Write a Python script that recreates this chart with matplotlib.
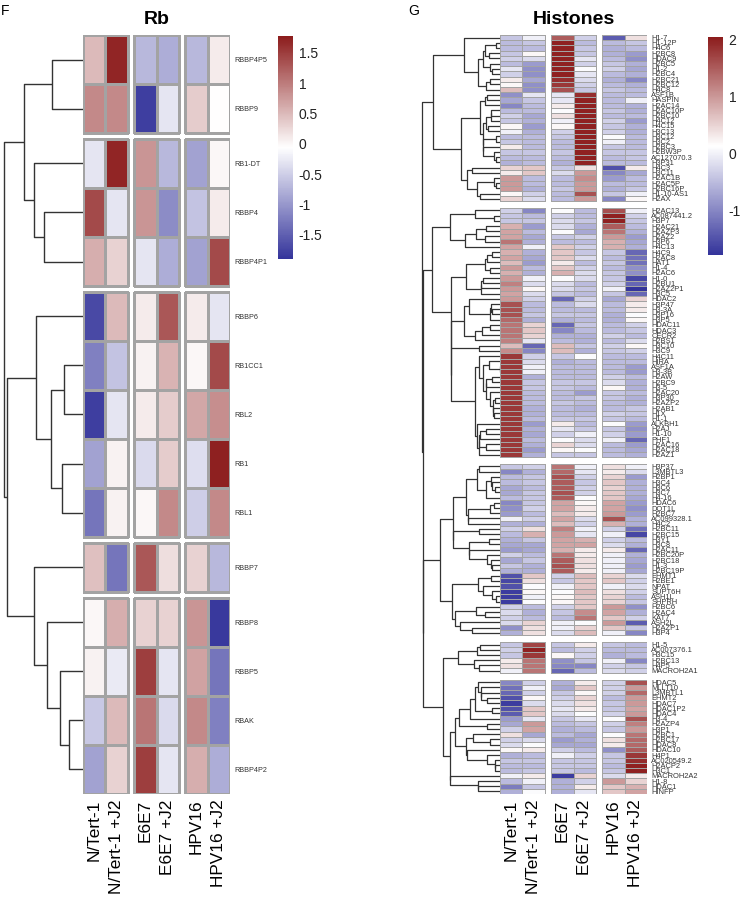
import numpy as np
import matplotlib
matplotlib.use("Agg")
import matplotlib.pyplot as plt
from matplotlib.colors import LinearSegmentedColormap, Normalize
from matplotlib.cm import ScalarMappable

plt.rcParams['font.family'] = ['Liberation Sans', 'DejaVu Sans']
plt.rcParams['axes.unicode_minus'] = False

samples = ["N/Tert-1", "N/Tert-1 +J2", "E6E7", "E6E7 +J2", "HPV16", "HPV16 +J2"]

# ---- Rb panel (row z-scores) ----
rb_genes = ["RBBP4P5", "RBBP9", "RB1-DT", "RBBP4", "RBBP4P1", "RBBP6", "RB1CC1", "RBL2",
            "RB1", "RBL1", "RBBP7", "RBBP8", "RBBP5", "RBAK", "RBBP4P2"]
rb_values = [
    [0.5, 1.7, -0.7, -0.8, -0.7, 0.1],
    [0.9, 0.9, -1.8, -0.3, 0.35, -0.05],
    [-0.3, 1.7, 0.8, -0.7, -0.9, 0.0],
    [1.4, -0.3, 0.8, -1.1, -0.6, 0.1],
    [0.6, 0.3, -0.3, -0.8, -0.9, 1.4],
    [-1.7, 0.5, 0.1, 1.3, 0.1, -0.3],
    [-1.2, -0.6, 0.05, 0.55, 0.0, 1.4],
    [-1.8, -0.3, 0.1, 0.35, 0.65, 0.85],
    [-0.9, 0.05, -0.4, 0.35, -0.35, 1.75],
    [-1.3, 0.05, 0.0, 0.9, -0.5, 0.9],
    [0.45, -1.3, 1.3, 0.2, 0.3, -0.7],
    [0.0, 0.6, 0.3, 0.3, 0.8, -1.85],
    [0.05, -0.25, 1.5, -0.3, 0.7, -1.3],
    [-0.55, 0.5, 1.05, -0.4, 0.9, -1.2],
    [-0.9, 0.3, 1.5, -0.3, 0.6, -0.8],
]
rb_blocks = [2, 3, 5, 1, 4]
rb_range = (-1.9, 1.78)
rb_ticks = [-1.5, -1, -0.5, 0, 0.5, 1, 1.5]
# row dendrogram: (left, right, merge height)
rb_tree = (((0, 1, 31), (2, (3, 4, 39), 49), 59),
           ((5, ((6, 7, 19), (8, 9, 21), 32), 47),
            (10, (11, (12, (13, 14, 14), 23), 36), 49), 76), 79)

# ---- Histones panel ----
hist_b1_genes = ["H1-7", "H1-12P", "H4C6", "H2BC8", "HDAC9", "H2BC5", "H1-2", "H2BC4", "H2BC21",
                 "H2BC12", "H4C8", "ASF1B", "HASPIN", "H2AC14", "H2AC10P", "H2BC10", "H4C12",
                 "H4C15", "H3C13", "H3C12", "H3C2", "H2BC3", "H2BW3P", "AC127070.3", "H3P31",
                 "H4C3", "H3C11", "H2AC1B", "H2AC5P", "H2BC16P", "H1-10-AS1", "H2AX"]
hist_b1_values = [
    [-0.4, 0.0, 1.5, -0.3, -1.4, 0.4], [-0.5, -0.4, 2.0, -0.5, -0.5, -0.4],
    [-0.5, -0.5, 2.0, -0.4, -0.6, -0.5], [-0.4, 0.2, 2.0, -0.4, -0.6, -0.8],
    [-0.3, -0.2, 2.0, -0.1, -0.5, -0.9], [-0.5, -0.8, 2.0, -0.3, -0.4, -0.6],
    [-0.1, -0.9, 2.0, 0.1, -0.3, -0.7], [-0.3, -0.9, 2.0, -0.1, -0.5, -0.6],
    [0.3, -0.7, 1.9, -0.2, -0.6, -1.0], [0.2, -0.9, 1.8, -0.3, -0.5, -0.6],
    [0.7, -0.9, 1.6, -0.4, -0.4, -0.5], [-0.9, -0.1, -0.1, 1.9, -0.5, -0.5],
    [-0.7, -0.4, -0.1, 2.0, -0.5, 0.0], [-1.0, -0.5, 0.3, 2.0, -0.5, -0.6],
    [-0.5, -0.5, 0.1, 2.0, -0.4, -0.6], [-0.3, -0.7, 0.4, 2.0, -0.5, -0.5],
    [-0.4, -0.6, 0.0, 2.0, -0.3, -0.8], [0.2, -0.8, 0.2, 2.0, -0.4, -0.6],
    [0.0, -0.6, -0.3, 2.0, -0.3, -0.6], [-0.5, -0.5, -0.4, 2.0, 0.1, -0.5],
    [-0.4, -0.5, -0.5, 2.0, 0.0, -0.5], [0.3, -0.5, -0.5, 2.0, -0.4, -0.5],
    [-0.4, -0.4, -0.4, 2.0, -0.4, -0.4], [-0.5, -0.5, -0.5, 2.0, -0.5, -0.4],
    [-0.6, -0.5, -0.6, 2.0, -0.5, -0.5], [0.5, 0.6, -0.4, 0.4, -1.5, 0.3],
    [0.3, 0.6, -0.2, 1.0, -1.0, -0.7], [1.0, -0.5, -0.5, 1.1, -0.8, -0.5],
    [1.0, -0.5, -0.5, 1.0, -0.5, -0.5], [1.0, -0.6, -0.4, 1.0, -0.6, -0.4],
    [0.2, -0.3, -0.5, 1.6, -0.4, 0.0], [0.5, -0.2, -0.5, 1.0, -1.0, 0.2],
]
hist_b2_genes = ["H2AC13", "AC087441.2", "H3P7", "H2AC21", "H2AZP3", "H2AZ2", "H3P6", "H4C13",
                 "H4C9", "H2AC8", "HAT1", "H1-4", "H2AC6", "H1-0", "H2BU1", "H2AZ2P1", "H3C5",
                 "HDAC2", "H3P47", "H3-3A", "H3P16", "H3P5", "HDAC11", "HDAC3", "CECR2", "H2BS1",
                 "H3C10", "H3C9", "H4C11", "HIRA", "ASF1A", "H3-3B", "H2AW", "H2BC9", "H3-5",
                 "H2AC20", "H3P30", "H2AZP2", "H2AB1", "H1X", "H1-1", "ALKBH1", "H2AJ", "H1-10",
                 "PHF1", "H2AC16", "H2AC18", "H2AZ1"]
hist_b2_values = [
    [-0.3, -1.0, 0.1, -0.5, 1.6, 0.0], [-0.4, -0.5, -0.3, -0.5, 2.0, -0.3],
    [-0.4, -0.4, -0.2, -0.4, 2.0, -0.4], [0.8, -0.8, -0.2, -0.6, 1.5, -0.5],
    [0.9, -0.5, 0.1, -0.7, 1.3, -0.6], [0.9, -0.7, -0.4, -0.3, 1.0, -0.8],
    [1.3, -0.6, -0.5, -0.5, 0.8, -0.7], [0.9, 0.0, 0.6, -0.3, 0.8, -0.6],
    [0.8, -0.6, 0.6, -0.4, -0.4, -1.3], [0.9, -0.7, 0.6, -0.2, -0.5, -1.2],
    [0.7, -0.8, 0.3, -0.5, -0.4, -1.2], [1.0, -0.5, 0.6, -0.3, -0.5, -0.9],
    [0.8, -0.6, 0.8, -0.2, -0.4, -0.9], [1.0, 0.0, 0.1, -0.2, -0.4, -1.6],
    [1.2, -0.2, -0.2, -0.5, -0.3, -1.3], [1.0, 0.2, -0.2, -0.4, 0.0, -1.8],
    [0.9, -0.2, -0.4, -0.5, -0.4, -1.3], [1.0, -0.3, -1.3, -0.3, -0.7, 0.5],
    [1.6, -0.5, -0.5, -0.2, -0.5, 0.3], [1.6, -0.5, -0.5, -0.5, -0.5, 0.3],
    [1.6, -0.4, -0.4, -0.4, -0.6, 0.1], [1.4, -0.6, -0.6, -0.5, -0.6, 0.2],
    [1.3, 0.5, -1.3, -0.4, -0.5, -0.3], [1.3, 0.6, -1.0, -0.5, -0.5, -0.4],
    [1.3, 0.5, -0.6, -0.6, -0.3, -0.5], [1.2, -0.1, -0.5, -0.6, -0.5, -0.2],
    [0.7, -1.3, 0.7, -0.4, -0.3, 0.2], [1.1, -1.0, 0.7, -0.6, -0.4, -0.3],
    [1.8, -0.3, -0.4, 0.1, -0.5, -0.5], [1.8, -0.2, -0.6, -0.5, -0.5, -0.5],
    [1.8, 0.0, -0.5, -0.5, -0.5, -0.8], [1.8, 0.0, -0.5, -0.5, -0.5, -0.8],
    [1.8, -0.6, -0.5, -0.5, -0.3, -0.5], [1.8, -0.4, -0.4, -0.4, -0.2, -0.6],
    [1.8, -0.4, -0.4, -0.5, 0.2, -0.6], [1.8, -0.5, -0.5, -0.8, -0.4, -0.5],
    [1.8, -0.5, -0.5, -0.4, -0.4, -0.6], [1.8, -0.5, -0.4, -0.5, -0.5, -0.6],
    [1.8, -0.6, -0.5, -0.6, -0.5, -0.4], [1.8, -0.6, -0.5, -0.5, -0.3, -0.4],
    [1.8, -0.5, -0.4, -0.4, -0.4, -0.5], [1.8, -0.8, 0.3, -0.5, 0.1, -0.8],
    [1.8, -0.6, -0.1, -0.4, -0.4, -0.9], [1.8, -0.7, -0.3, 0.0, -0.3, -0.8],
    [1.8, -0.5, 0.1, -0.2, 0.0, -1.3], [1.8, -0.6, 0.5, -0.2, -0.5, -0.8],
    [1.8, -0.8, 0.2, 0.1, -0.5, -0.7], [1.8, -0.6, -0.4, -0.4, -0.5, -0.6],
]
hist_b3_genes = ["H3P37", "L3MBTL3", "H2BP1", "H3C4", "H3C6", "H3C7", "H4-16", "HDAC6", "DOT1L",
                 "H2BC7", "AC099328.1", "H4C2", "H2BC11", "H2BC15", "H3Y1", "H3C8", "H2AC11",
                 "H2BC20P", "H2BC18", "H1-3", "H2BC19P", "EHMT1", "H2BE1", "NPAT", "SUPT6H",
                 "ASH1L", "SHPRH", "H2BC6", "H2AC4", "KAT7", "ASH2L", "H2AZP1", "H3P4"]
hist_b3_values = [
    [-0.4, -0.3, 1.3, 0.0, 0.4, 0.0], [-1.0, -0.6, 1.4, -0.1, 0.3, -0.2],
    [-0.5, -0.4, 1.6, -0.3, 0.5, -0.8], [-0.5, -0.4, 1.5, -0.4, 0.6, -0.6],
    [-0.7, -0.5, 1.5, -0.3, 0.5, -0.6], [-0.7, -0.4, 1.6, -0.3, 0.6, -0.6],
    [-0.5, -0.4, 1.5, 0.1, 0.6, -0.7], [-1.0, -0.4, 0.9, 0.2, 0.9, -0.8],
    [-0.9, -0.3, 0.9, 0.3, 0.9, -0.9], [-0.8, -0.5, 0.7, 0.3, 1.0, -0.8],
    [0.0, -0.3, 0.9, -0.2, 1.6, -0.6], [-0.6, -0.6, 0.7, -0.3, 0.8, -0.6],
    [-0.3, 0.4, 1.2, 0.0, -0.3, -1.2], [-0.5, 0.8, 1.0, -0.1, 0.0, -1.6],
    [-0.6, -0.4, 0.9, 0.8, -0.3, -0.5], [-0.7, -0.7, 0.9, 0.9, -0.2, -0.6],
    [-0.8, -0.7, 0.8, 0.3, 0.3, -1.3], [-0.3, -0.5, 1.3, 0.3, 0.0, -0.6],
    [-0.7, -0.4, 1.5, 0.4, 0.0, -0.7], [-0.4, -0.6, 1.6, 0.4, 0.0, -0.8],
    [-0.6, -0.6, 1.5, 0.3, 0.0, -0.7], [-1.5, 0.6, -0.3, 0.7, 0.5, -0.2],
    [-1.6, 0.4, -0.4, 0.6, 0.6, -0.3], [-1.5, 0.1, 0.0, 0.6, 0.0, -0.2],
    [-1.7, 0.2, 0.1, 0.7, 0.4, -0.3], [-1.7, 0.0, 0.2, 0.6, 0.5, -0.5],
    [-1.7, 0.1, 0.2, 0.6, 0.5, -0.4], [-0.3, -0.5, -0.3, 0.6, 1.0, -0.9],
    [-0.2, -0.6, -0.4, 1.1, 0.9, -0.6], [-0.3, -0.5, -0.5, 1.3, 0.6, -0.3],
    [-0.2, 0.5, 0.0, 0.1, 1.0, -1.4], [-0.9, 0.4, 0.0, 0.5, 0.6, -0.4],
    [-0.6, 0.4, -0.2, 0.7, 0.0, -1.0],
]
hist_b4_genes = ["H1-5", "AC007376.1", "H3C15", "H2BC13", "H4P5", "MACROH2A1"]
hist_b4_values = [
    [-0.4, 1.7, -0.4, 0.3, -0.4, -0.5], [-0.3, 2.0, -0.5, -0.3, -0.5, -0.5],
    [-0.4, 1.8, 0.2, -0.3, -0.6, -0.5], [0.3, 1.3, -0.9, -0.4, 0.0, -1.0],
    [0.4, 1.3, -1.0, -1.0, -0.3, -0.4], [0.0, 1.3, -1.3, -0.5, -0.2, -0.3],
]
hist_b5_genes = ["HDAC5", "MLLT10", "L3MBTL1", "EHMT2", "HDAC7", "HDAC1P2", "HDAC4", "H3-4",
                 "H2AZP4", "H3P1", "H2BC1", "H2BC17", "HDAC8", "HDAC10", "H4P1", "AC020549.2",
                 "H2ACP2", "H3C1", "MACROH2A2", "H1-8", "HDAC1", "HINFP"]
hist_b5_values = [
    [-1.0, -0.3, -0.6, 0.3, -0.3, 1.6], [-1.2, 0.0, -0.7, 0.6, -0.3, 1.0],
    [-1.3, -0.3, -0.4, 0.2, -0.3, 1.4], [-1.5, 0.2, -0.3, 0.5, -0.5, 1.0],
    [-1.7, -0.2, -0.2, 0.4, -0.4, 1.0], [-1.5, 0.6, -0.1, 0.3, -0.4, 0.9],
    [-1.4, 0.6, -0.2, 0.1, -0.3, 1.0], [-0.8, -0.1, -0.4, -0.1, 0.1, 1.6],
    [-0.7, 1.0, -0.5, -0.4, -0.3, 1.2], [-0.3, 0.9, -0.6, -0.5, -0.4, 1.0],
    [0.4, -0.7, -0.5, -0.7, 0.1, 1.3], [-0.3, -0.2, -0.8, -0.6, 0.4, 1.4],
    [-0.2, 0.1, -0.7, -0.7, 0.3, 1.4], [0.2, 0.3, -0.3, -0.5, -0.9, 1.5],
    [-0.6, -0.5, 0.0, -0.3, -0.4, 1.8], [-0.4, -0.4, -0.4, -0.4, -0.4, 1.9],
    [-0.5, -0.5, -0.4, -0.4, -0.5, 2.0], [-0.5, -0.4, -0.4, -0.5, -0.4, 2.0],
    [0.0, 0.3, -1.7, 0.5, -0.2, 0.3], [-0.5, 0.0, -0.6, -0.3, 1.0, 0.5],
    [-1.1, -0.4, -0.6, 0.3, 0.6, 0.8], [-0.6, 0.1, -0.6, -0.1, 0.6, 0.9],
]
hist_block_heights = [67, 68, 60, 42, 50]   # dendrogram height of each row cluster
hist_range = (-1.78, 2.05)
hist_ticks = [-1, 0, 1, 2]

W, H = 748, 899
fig = plt.figure(figsize=(W / 100, H / 100), dpi=100)
cmap = LinearSegmentedColormap.from_list("ph", ["#34349b", "#ffffff", "#8c1c1c"])


def px_axes(x0, y0, x1, y1):
    return fig.add_axes([x0 / W, 1 - y1 / H, (x1 - x0) / W, (y1 - y0) / H])


def row_tops(blocks, gap):
    tops, y = [], 0.0
    for n in blocks:
        tops.append(y + np.arange(n + 1))
        y += n + gap
    return tops, y - gap


def cluster_block(vals, first, top_h):
    # adjacency-constrained average linkage, keeps the displayed row order
    groups = [[i] for i in range(len(vals))]
    nodes = [first + i for i in range(len(vals))]
    hts = [0.0] * len(vals)
    while len(groups) > 1:
        d = [np.mean(np.linalg.norm(vals[groups[k]][:, None, :] - vals[groups[k + 1]][None, :, :], axis=2))
             for k in range(len(groups) - 1)]
        k = int(np.argmin(d))
        h = max(d[k], hts[k], hts[k + 1])
        nodes[k:k + 2] = [(nodes[k], nodes[k + 1], h)]
        groups[k:k + 2] = [groups[k] + groups[k + 1]]
        hts[k:k + 2] = [h]
    s = top_h / hts[0]

    def rescale(n):
        if isinstance(n, (int, np.integer)):
            return int(n)
        return (rescale(n[0]), rescale(n[1]), n[2] * s)
    return rescale(nodes[0])


def draw_tree(ax, node, ypos, lw):
    if isinstance(node, int):
        return ypos[node], 0.0
    yl, hl = draw_tree(ax, node[0], ypos, lw)
    yr, hr = draw_tree(ax, node[1], ypos, lw)
    h = node[2]
    ax.plot([hl, h, h, hr], [yl, yl, yr, yr], color="#333333", lw=lw, solid_capstyle="butt")
    return (yl + yr) / 2, h


def panel(x0, x1, dx0, values, genes, blocks, rgap, vrange, lw_grid, lw_tree, tree, label_fs):
    values = np.asarray(values)
    norm = Normalize(*vrange)
    cgap = 0.27
    tops, total = row_tops(blocks, rgap)
    ax = px_axes(x0, 35, x1, 794)
    start = 0
    for t, n in zip(tops, blocks):
        for g in range(3):
            xe = g * (2 + cgap) + np.arange(3)
            ax.pcolormesh(xe, t, values[start:start + n, 2 * g:2 * g + 2], cmap=cmap, norm=norm,
                          edgecolors="#a3a3a3", linewidth=lw_grid, snap=True)
        start += n
    centers = np.concatenate([t[:-1] + 0.5 for t in tops])
    ax.set_xlim(0, 6 + 2 * cgap)
    ax.set_ylim(total, 0)
    for s in ax.spines.values():
        s.set_visible(False)
    ax.set_xticks([g * (2 + cgap) + j + 0.5 for g in range(3) for j in range(2)])
    ax.set_xticklabels(samples, rotation=90, fontsize=12.4)
    ax.yaxis.tick_right()
    ax.set_yticks(centers)
    ax.set_yticklabels(genes, fontsize=label_fs, color="#333333")
    ax.tick_params(axis="x", length=0, pad=4)
    ax.tick_params(axis="y", length=0, pad=3)

    dax = px_axes(dx0, 35, x0, 794)
    draw_tree(dax, tree, centers, lw_tree)
    dax.set_xlim(x0 - dx0, 0)
    dax.set_ylim(total, 0)
    dax.axis("off")
    return norm


def colorbar(norm, x0, y0, y1, ticks):
    cax = px_axes(x0, y0, x0 + 15, y1)
    cb = fig.colorbar(ScalarMappable(norm=norm, cmap=cmap), cax=cax)
    cb.outline.set_visible(False)
    cb.set_ticks(ticks)
    cb.set_ticklabels([f"{t:g}" for t in ticks])
    cax.tick_params(length=0, labelsize=10, pad=4, labelcolor="#222222")


# Rb
rb_norm = panel(83, 230, 0, rb_values, rb_genes, rb_blocks, 0.12, rb_range, 1.0, 1.0, rb_tree, 5.2)
colorbar(rb_norm, 278, 36, 259, rb_ticks)
fig.text(156.5 / W, 1 - 24.5 / H, "Rb", fontsize=14, fontweight="bold", ha="center", va="baseline")
fig.text(0.5 / W, 1 - 15 / H, "F", fontsize=10, ha="left", va="baseline")

# Histones
hist_values_blocks = [hist_b1_values, hist_b2_values, hist_b3_values, hist_b4_values, hist_b5_values]
hist_genes = hist_b1_genes + hist_b2_genes + hist_b3_genes + hist_b4_genes + hist_b5_genes
hist_sizes = [len(v) for v in hist_values_blocks]
firsts = np.concatenate([[0], np.cumsum(hist_sizes)[:-1]])
sub = [cluster_block(np.asarray(v), int(f), h)
       for v, f, h in zip(hist_values_blocks, firsts, hist_block_heights)]
hist_tree = (sub[0], (sub[1], (sub[2], (sub[3], sub[4], 57), 77), 77.5), 78)
hist_norm = panel(500, 647, 420, np.vstack(hist_values_blocks), hist_genes, hist_sizes, 1.25,
                  hist_range, 0.6, 0.9, hist_tree, 5.4)
colorbar(hist_norm, 708, 37, 255, hist_ticks)
fig.text(573.5 / W, 1 - 24.5 / H, "Histones", fontsize=14, fontweight="bold", ha="center", va="baseline")
fig.text(408 / W, 1 - 15 / H, "G", fontsize=10, ha="left", va="baseline")

fig.savefig("out.png", dpi=100)
